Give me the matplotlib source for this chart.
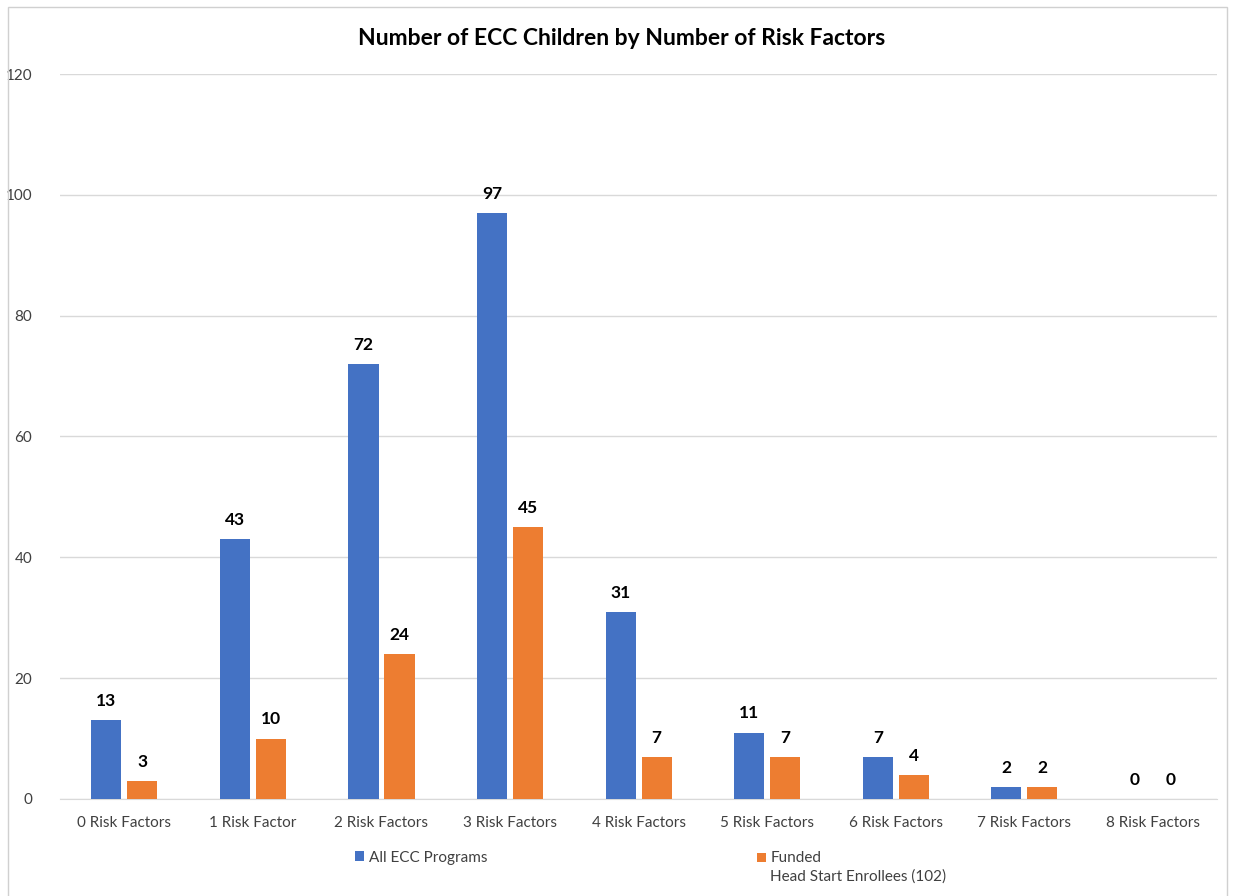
import numpy as np
import matplotlib
matplotlib.use("Agg")
import matplotlib.pyplot as plt
from matplotlib.patches import Rectangle

categories = ["0 Risk Factors", "1 Risk Factor", "2 Risk Factors", "3 Risk Factors",
              "4 Risk Factors", "5 Risk Factors", "6 Risk Factors", "7 Risk Factors",
              "8 Risk Factors"]
all_ecc = [13, 43, 72, 97, 31, 11, 7, 2, 0]
head_start = [3, 10, 24, 45, 7, 7, 4, 2, 0]
series_names = ["All ECC Programs", "Funded\nHead Start Enrollees (102)"]

plt.rcParams["font.family"] = ["Lato", "DejaVu Sans"]

fig = plt.figure(figsize=(12.35, 8.96), dpi=100)
ax = fig.add_axes([0.0486, 0.1083, 0.937, 0.8091])

x = np.arange(len(categories))
w = 0.235
off = 0.14
b1 = ax.bar(x - off, all_ecc, w, color="#4472C4", label=series_names[0], zorder=3)
b2 = ax.bar(x + off, head_start, w, color="#ED7D31", label=series_names[1], zorder=3)

for bars in (b1, b2):
    for rect in bars:
        h = rect.get_height()
        ax.annotate(f"{h:.0f}", (rect.get_x() + rect.get_width() / 2, h),
                    xytext=(0, 8), textcoords="offset points", ha="center", va="bottom",
                    fontsize=12.5, fontweight="bold", color="#000000")

ax.set_xlim(-0.5, len(categories) - 0.5)
ax.set_ylim(0, 120)
ax.set_yticks(range(0, 121, 20))
ax.set_xticks(x)
ax.set_xticklabels(categories)
ax.tick_params(axis="both", length=0, labelsize=11, colors="#404040")
ax.tick_params(axis="x", pad=12)
ax.tick_params(axis="y", pad=20)
ax.grid(axis="y", color="#d9d9d9", linewidth=1, zorder=0)
for s in ("top", "right", "left"):
    ax.spines[s].set_visible(False)
ax.spines["bottom"].set_color("#d9d9d9")

fig.text(0.503, 0.957, "Number of ECC Children by Number of Risk Factors",
         ha="center", va="center", fontsize=16.5, fontweight="bold")

# two separate legends so each key sits on the first text line
leg_kw = dict(loc="upper left", frameon=False, fontsize=11, handlelength=0.6,
              handleheight=0.6, handletextpad=0.3, labelcolor="#404040")
leg1 = fig.legend(handles=[b1], bbox_to_anchor=(0.2765, 0.066), **leg_kw)
leg2 = fig.legend(handles=[b2], bbox_to_anchor=(0.6016, 0.066), **leg_kw)
leg2.texts[0].set_linespacing(1.45)
hs = leg2.legend_handles[0]
hs.set_y(hs.get_y() + 7.2)

fig.patches.append(Rectangle((0.0065, -0.01), 0.987, 1.002, transform=fig.transFigure,
                             fill=False, edgecolor="#d0d0d0", linewidth=1))

fig.savefig("out.png", dpi=100)
